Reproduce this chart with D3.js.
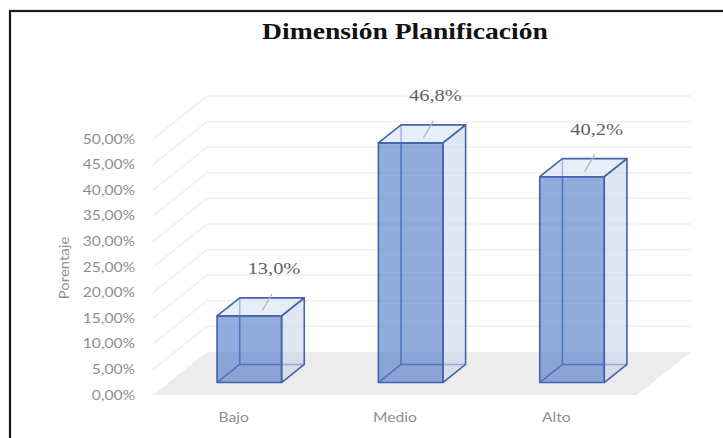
<!DOCTYPE html>
<html>
<head>
<meta charset="utf-8">
<script src="https://cdn.jsdelivr.net/npm/d3@7"></script>
<style>
  html, body { margin: 0; padding: 0; background: #fff; overflow: hidden; }
  svg { display: block; }
</style>
</head>
<body>
<svg id="chart" width="723" height="438"></svg>
<script>
// Chart data
const categories = ["Bajo", "Medio", "Alto"];
const values = [13.0, 46.8, 40.2];          // percentages
const tickValues = [0, 5, 10, 15, 20, 25, 30, 35, 40, 45, 50];
const chartTitle = "Dimensión Planificación";
const axisTitle = "Porentaje";

// Spanish number formatting (decimal comma)
const es = d3.formatLocale({ decimal: ",", thousands: ".", grouping: [3], currency: ["", " €"] });
const fmtTick = v => es.format(".2f")(v) + "%";
const fmtValue = v => es.format(".1f")(v) + "%";

const svg = d3.select("#chart");

// 3D projection: front plane coordinates plus a depth offset
const DX = 54, DY = -43;
const x = d3.scaleBand().domain(categories).range([153, 637]).padding(0);
const y = d3.scaleLinear().domain([0, 50]).range([395, 139]);
const proj = (px, v, d) => [px + d * DX, y(v) + d * DY];
const pts = arr => arr.map(p => p.join(",")).join(" ");

const xL = x.range()[0], xR = x.range()[1];
const SANS = "Lato, 'Open Sans', sans-serif";
const SERIF = "'Liberation Serif', 'DejaVu Serif', serif";

// Outer frame
svg.append("rect")
  .attr("x", 10).attr("y", 11).attr("width", 740).attr("height", 460)
  .attr("fill", "none").attr("stroke", "#1a1a1a").attr("stroke-width", 2.2);

// Floor
svg.append("polygon")
  .attr("points", pts([proj(xL, 0, 0), proj(xR, 0, 0), proj(xR, 0, 1), proj(xL, 0, 1)]))
  .attr("fill", "#ececec");

// Gridlines on side wall and back wall
const grid = svg.append("g").attr("stroke", "#f1f1f1").attr("stroke-width", 1.6).attr("fill", "none");
tickValues.filter(v => v > 0).forEach(v => {
  grid.append("polyline")
    .attr("points", pts([proj(xL, v, 0), proj(xL, v, 1), proj(xR, v, 1)]));
});

// Text helper with horizontal stretch
const txt = (g, px, py, s, sx, family, size, fill) => g.append("text")
  .attr("transform", `translate(${px},${py}) scale(${sx},1)`)
  .attr("font-family", family).attr("font-size", size).attr("fill", fill)
  .text(s);

// Tick labels
const ticksG = svg.append("g").attr("text-anchor", "end");
tickValues.forEach(v => txt(ticksG, 135, y(v) + 4.5, fmtTick(v), 1.2, SANS, 13, "#8f8f8f"));

// Axis title
svg.append("text")
  .attr("transform", "translate(69,268) rotate(-90) scale(1.15,1)")
  .attr("text-anchor", "middle")
  .attr("font-family", SANS)
  .attr("font-size", 13).attr("fill", "#8f8f8f")
  .text(axisTitle);

// Category labels
const catG = svg.append("g").attr("text-anchor", "middle");
categories.forEach(c => txt(catG, x(c) + x.bandwidth() / 2, 422, c, 1.2, SANS, 13, "#8f8f8f"));

// Bars as transparent boxes
const D0 = 0.29, D1 = 0.71, W = 0.4;
const edge = "#4363ab";
const bars = svg.append("g").attr("stroke", edge).attr("stroke-width", 1.6).attr("stroke-linejoin", "round");
const labelsG = svg.append("g").attr("text-anchor", "middle");

categories.forEach((c, i) => {
  const v = values[i];
  const w = x.bandwidth() * W;
  const x0 = x(c) + (x.bandwidth() - w) / 2, x1 = x0 + w;
  const A = proj(x0, 0, D0), B = proj(x1, 0, D0), C = proj(x1, v, D0), Dp = proj(x0, v, D0);
  const E = proj(x0, 0, D1), F = proj(x1, 0, D1), G = proj(x1, v, D1), H = proj(x0, v, D1);
  const g = bars.append("g");

  // hidden edges seen through the transparent faces
  g.append("polyline").attr("points", pts([A, E, F])).attr("fill", "none").attr("stroke-opacity", 0.85);
  g.append("line").attr("x1", E[0]).attr("y1", E[1]).attr("x2", H[0]).attr("y2", H[1]).attr("stroke-opacity", 0.85);

  // right side face
  g.append("polygon").attr("points", pts([B, F, G, C])).attr("fill", "#c9d3e8").attr("fill-opacity", 0.55);
  // top face
  g.append("polygon").attr("points", pts([Dp, C, G, H])).attr("fill", "#d6e2f7").attr("fill-opacity", 0.6);
  // front face
  g.append("polygon").attr("points", pts([A, B, C, Dp])).attr("fill", "#4472c4").attr("fill-opacity", 0.58);

  // data label leader line and text
  const cx = (x0 + x1) / 2 + D1 * DX;
  svg.append("line")
    .attr("x1", cx - 10).attr("y1", (C[1] + G[1]) / 2 + 4)
    .attr("x2", cx).attr("y2", G[1] - 4)
    .attr("stroke", "#b5b5b5").attr("stroke-width", 1.2);
  txt(labelsG, cx + 2, G[1] - 24, fmtValue(v), 1.2, SERIF, 17, "#5f5f5f");
});

// Title
svg.append("text")
  .attr("transform", "translate(405,39) scale(1.2,1)")
  .attr("text-anchor", "middle")
  .attr("font-family", SERIF)
  .attr("font-weight", "bold").attr("font-size", 23).attr("fill", "#111")
  .text(chartTitle);
</script>
</body>
</html>
